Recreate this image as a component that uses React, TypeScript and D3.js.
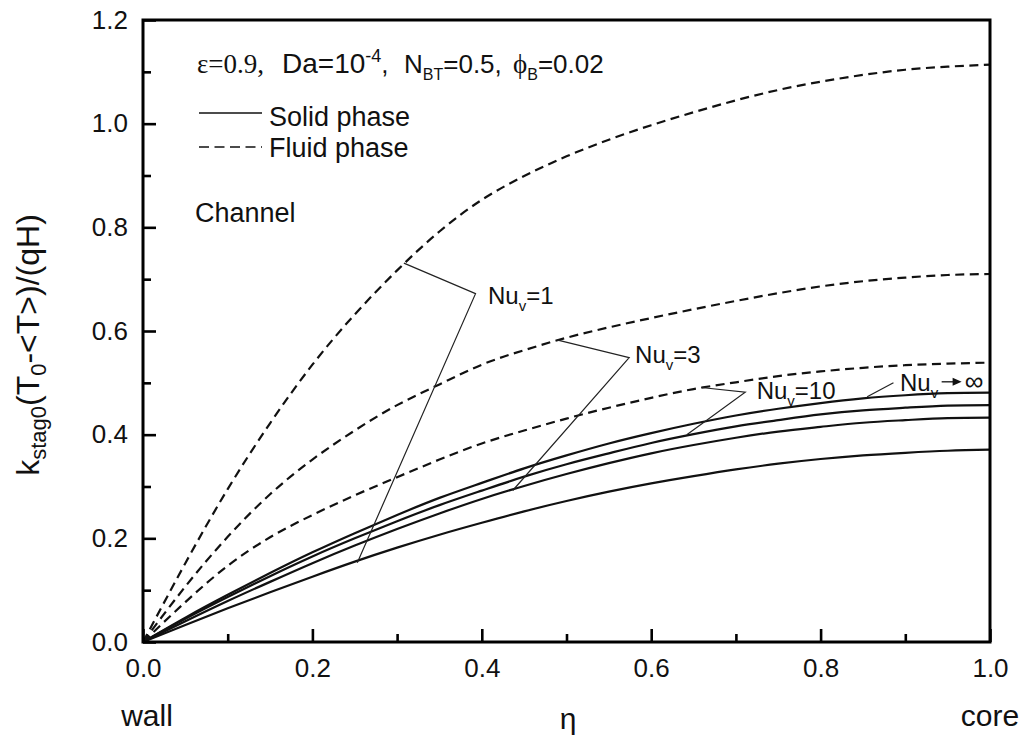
import * as d3 from 'd3';
import React, { useEffect, useRef } from 'react';

// eta positions where the curves were read
const eta = [0, 0.05, 0.1, 0.15, 0.2, 0.25, 0.3, 0.35, 0.4, 0.45, 0.5, 0.55, 0.6, 0.65, 0.7, 0.75, 0.8, 0.85, 0.9, 0.95, 1.0];

// solid phase
const solidNuInf = [0, 0.047, 0.091, 0.133, 0.173, 0.21, 0.245, 0.278, 0.307, 0.335, 0.36, 0.383, 0.403, 0.421, 0.437, 0.45, 0.461, 0.47, 0.476, 0.48, 0.481];
const solidNu10 = [0, 0.045, 0.087, 0.127, 0.165, 0.2, 0.233, 0.264, 0.292, 0.319, 0.343, 0.364, 0.384, 0.401, 0.416, 0.428, 0.439, 0.447, 0.452, 0.456, 0.457];
const solidNu3 = [0, 0.04, 0.079, 0.116, 0.152, 0.186, 0.218, 0.248, 0.276, 0.301, 0.324, 0.345, 0.364, 0.38, 0.394, 0.406, 0.415, 0.423, 0.428, 0.432, 0.433];
const solidNu1 = [0, 0.033, 0.065, 0.096, 0.126, 0.155, 0.182, 0.207, 0.23, 0.252, 0.272, 0.29, 0.306, 0.32, 0.333, 0.344, 0.353, 0.36, 0.365, 0.369, 0.371];

// fluid phase
const fluidNu10 = [0, 0.077, 0.147, 0.202, 0.245, 0.283, 0.318, 0.352, 0.383, 0.408, 0.431, 0.452, 0.471, 0.488, 0.501, 0.513, 0.522, 0.529, 0.534, 0.537, 0.539];
const fluidNu3 = [0, 0.107, 0.203, 0.285, 0.352, 0.408, 0.457, 0.497, 0.535, 0.563, 0.587, 0.607, 0.625, 0.642, 0.658, 0.673, 0.686, 0.696, 0.703, 0.708, 0.71];
const fluidNu1 = [0, 0.152, 0.295, 0.422, 0.535, 0.632, 0.717, 0.792, 0.853, 0.899, 0.937, 0.969, 0.997, 1.022, 1.045, 1.065, 1.081, 1.094, 1.104, 1.11, 1.114];

const xMajor = [0, 0.2, 0.4, 0.6, 0.8, 1.0];
const xMinor = [0.1, 0.3, 0.5, 0.7, 0.9];
const yMajor = [0, 0.2, 0.4, 0.6, 0.8, 1.0, 1.2];
const yMinor = [0.1, 0.3, 0.5, 0.7, 0.9, 1.1];

const series = [
    { values: solidNuInf, dashed: false },
    { values: solidNu10, dashed: false },
    { values: solidNu3, dashed: false },
    { values: solidNu1, dashed: false },
    { values: fluidNu10, dashed: true },
    { values: fluidNu3, dashed: true },
    { values: fluidNu1, dashed: true },
];

// leader lines for the Nu_v labels, in data units
const annotations = [
    { text: '=1', at: [0.4073, 0.652], leader: [[0.308, 0.731], [0.3926, 0.672], [0.253, 0.153]] },
    { text: '=3', at: [0.581, 0.5385], leader: [[0.4886, 0.583], [0.574, 0.5486], [0.4365, 0.2923]] },
    { text: '=10', at: [0.7245, 0.469], leader: [[0.659, 0.491], [0.711, 0.482], [0.642, 0.4]] },
    { text: '', at: [0.8937, 0.4846], leader: [[0.855, 0.473], [0.886, 0.5]] },
];

const SANS = '"Liberation Sans", Arial, sans-serif';
const SERIF = '"Liberation Serif", "Times New Roman", serif';

type Part = { t: string; size: number; shift?: number; font?: string; x?: number };

const rich = (sel: d3.Selection<SVGTextElement, unknown, null, undefined>, parts: Part[]) => {
    let prev = 0;
    parts.forEach((p) => {
        const shift = p.shift ?? 0;
        const ts = sel
            .append('tspan')
            .attr('font-size', p.size)
            .attr('dy', shift - prev)
            .text(p.t);
        if (p.font) ts.attr('font-family', p.font);
        if (p.x !== undefined) ts.attr('x', p.x);
        prev = shift;
    });
};

export default function App() {
    const ref = useRef<SVGSVGElement>(null);
    const width = 1024;
    const height = 749;
    const plot = { left: 143, right: 990, top: 20, bottom: 642 };

    useEffect(() => {
        const svg = d3.select(ref.current);
        svg.selectAll('*').remove();

        const x = d3.scaleLinear().domain([0, 1]).range([plot.left, plot.right]);
        const y = d3.scaleLinear().domain([0, 1.2]).range([plot.bottom, plot.top]);

        const line = d3
            .line<number>()
            .x((d, i) => x(eta[i]))
            .y((d) => y(d))
            .curve(d3.curveNatural);

        svg.append('g')
            .selectAll('path')
            .data(series)
            .join('path')
            .attr('d', (d) => line(d.values))
            .attr('fill', 'none')
            .attr('stroke', '#111')
            .attr('stroke-width', 2.2)
            .attr('stroke-dasharray', (d) => (d.dashed ? '9,5.5' : null));

        // axes, ticks pointing inward
        const styleAxis = (g: d3.Selection<SVGGElement, unknown, null, undefined>) => {
            g.select('.domain').remove();
            g.selectAll('line').attr('stroke', '#000').attr('stroke-width', 2.6);
            g.selectAll('text').attr('font-family', SANS).attr('font-size', 26).attr('fill', '#111');
        };

        svg.append('g')
            .attr('transform', `translate(0,${plot.bottom})`)
            .call(d3.axisBottom(x).tickValues(xMajor).tickSize(-13).tickPadding(17).tickFormat(d3.format('.1f')))
            .call(styleAxis);
        svg.append('g')
            .attr('transform', `translate(0,${plot.bottom})`)
            .call(d3.axisBottom(x).tickValues(xMinor).tickSize(-8).tickFormat(() => ''))
            .call(styleAxis);
        svg.append('g')
            .attr('transform', `translate(${plot.left},0)`)
            .call(d3.axisLeft(y).tickValues(yMajor).tickSize(-13).tickPadding(15).tickFormat(d3.format('.1f')))
            .call(styleAxis);
        svg.append('g')
            .attr('transform', `translate(${plot.left},0)`)
            .call(d3.axisLeft(y).tickValues(yMinor).tickSize(-8).tickFormat(() => ''))
            .call(styleAxis);

        svg.append('rect')
            .attr('x', plot.left)
            .attr('y', plot.top)
            .attr('width', plot.right - plot.left)
            .attr('height', plot.bottom - plot.top)
            .attr('fill', 'none')
            .attr('stroke', '#000')
            .attr('stroke-width', 3);

        // leaders + labels
        const ann = svg.append('g');
        let infLabel: SVGTextElement | null = null;
        annotations.forEach((a) => {
            ann.append('path')
                .attr('d', d3.line()(a.leader.map((p) => [x(p[0]), y(p[1])] as [number, number])))
                .attr('fill', 'none')
                .attr('stroke', '#222')
                .attr('stroke-width', 1.2);
            const t = ann
                .append('text')
                .attr('x', x(a.at[0]))
                .attr('y', y(a.at[1]))
                .attr('font-family', SANS)
                .attr('fill', '#111');
            rich(t, [
                { t: 'Nu', size: 24 },
                { t: 'v', size: 15, shift: 7 },
                { t: a.text, size: 24, shift: 0 },
            ]);
            if (!a.text) infLabel = t.node();
        });

        // Nu_v -> infinity: arrow and symbol after the label
        const inf = annotations[3];
        const box = infLabel ? (infLabel as SVGTextElement).getBBox() : { x: x(inf.at[0]), width: 30 };
        const ay = y(inf.at[1]) - 9;
        const ax0 = box.x + box.width + 3;
        ann.append('line')
            .attr('x1', ax0)
            .attr('x2', ax0 + 15)
            .attr('y1', ay)
            .attr('y2', ay)
            .attr('stroke', '#111')
            .attr('stroke-width', 1.3);
        ann.append('path')
            .attr('d', `M${ax0 + 20},${ay} L${ax0 + 11},${ay - 4} L${ax0 + 11},${ay + 4} Z`)
            .attr('fill', '#111');
        ann.append('text')
            .attr('x', ax0 + 23)
            .attr('y', y(inf.at[1]) - 1)
            .attr('font-family', SANS)
            .attr('font-size', 26)
            .attr('fill', '#111')
            .text('∞');

        // parameters line
        const params = svg.append('text').attr('x', 197).attr('y', 73).attr('font-family', SANS).attr('fill', '#111');
        rich(params, [
            { t: 'ε=0.9,', size: 27, font: SERIF },
            { t: 'Da=10', size: 28, x: 282 },
            { t: '-4', size: 18, shift: -11 },
            { t: ',', size: 26, shift: 0 },
            { t: 'N', size: 26, x: 404 },
            { t: 'BT', size: 16, shift: 7 },
            { t: '=0.5,', size: 26, shift: 0 },
            { t: 'ϕ', size: 27, font: SERIF, x: 513 },
            { t: 'B', size: 16, shift: 7 },
            { t: '=0.02', size: 26, shift: 0 },
        ]);

        // legend
        svg.append('line').attr('x1', 199).attr('x2', 262).attr('y1', 113).attr('y2', 113).attr('stroke', '#111').attr('stroke-width', 1.6);
        svg.append('line')
            .attr('x1', 199)
            .attr('x2', 262)
            .attr('y1', 147)
            .attr('y2', 147)
            .attr('stroke', '#111')
            .attr('stroke-width', 1.6)
            .attr('stroke-dasharray', '10,5.5');
        svg.append('text').attr('x', 269).attr('y', 126).attr('font-family', SANS).attr('font-size', 27).attr('fill', '#111').text('Solid phase');
        svg.append('text').attr('x', 269).attr('y', 157).attr('font-family', SANS).attr('font-size', 27).attr('fill', '#111').text('Fluid phase');

        svg.append('text').attr('x', 195).attr('y', 222).attr('font-family', SANS).attr('font-size', 27).attr('fill', '#111').text('Channel');

        // axis titles
        const under = svg.append('g').attr('font-family', SANS).attr('font-size', 30).attr('fill', '#111').attr('text-anchor', 'middle');
        under.append('text').attr('x', x(0) + 4).attr('y', 726).text('wall');
        under.append('text').attr('x', x(1)).attr('y', 726).text('core');
        under.append('text').attr('x', 568).attr('y', 729).text('η');

        const yl = svg
            .append('text')
            .attr('transform', 'translate(39,345) rotate(-90)')
            .attr('text-anchor', 'middle')
            .attr('font-family', SANS)
            .attr('fill', '#111');
        rich(yl, [
            { t: 'k', size: 32 },
            { t: 'stag0', size: 22, shift: 7 },
            { t: '(T', size: 32, shift: 0 },
            { t: '0', size: 22, shift: 7 },
            { t: '-<T>)/(qH)', size: 32, shift: 0 },
        ]);
    }, []);

    return (
        <svg
            ref={ref}
            width={width}
            height={height}
            style={{ position: 'absolute', left: 0, top: 0, background: '#fff' }}
        ></svg>
    );
}
